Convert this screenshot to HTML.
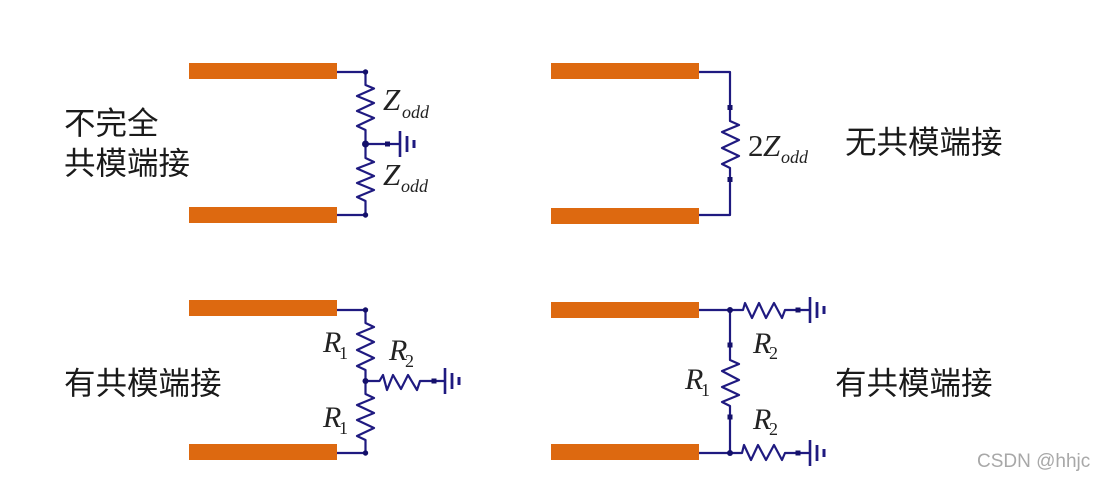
<!DOCTYPE html>
<html>
<head>
<meta charset="utf-8">
<style>
html,body{margin:0;padding:0;background:#fff;width:1094px;height:479px;overflow:hidden}
svg{display:block}
.c{font-family:"Liberation Sans","Noto Sans CJK SC",sans-serif;font-size:31.5px;fill:#1a1a1a}
.m{font-family:"Liberation Serif",serif;font-style:italic;fill:#222}
.n{font-family:"Liberation Serif",serif;fill:#222}
.w{fill:none;stroke:#1f1a80;stroke-width:2.2;stroke-linejoin:round}
.g{stroke:#1f1a80;fill:none}
.d{fill:#14106a}
.b{fill:#dd6910}
</style>
</head>
<body>
<svg width="1094" height="479" viewBox="0 0 1094 479" xmlns="http://www.w3.org/2000/svg">
<rect width="1094" height="479" fill="#fff"/>
<defs>
<g id="gnd">
<path class="g" stroke-width="2.6" d="M0-13V13"/>
<path class="g" stroke-width="2.8" d="M7-8V8"/>
<path class="g" stroke-width="3" d="M14-4V4"/>
</g>
</defs>

<!-- orange bars -->
<rect class="b" x="189" y="63" width="148" height="16"/>
<rect class="b" x="189" y="207" width="148" height="16"/>
<rect class="b" x="551" y="63" width="148" height="16"/>
<rect class="b" x="551" y="208" width="148" height="16"/>
<rect class="b" x="189" y="300" width="148" height="16"/>
<rect class="b" x="189" y="444" width="148" height="16"/>
<rect class="b" x="551" y="302" width="148" height="16"/>
<rect class="b" x="551" y="444" width="148" height="16"/>

<!-- top-left -->
<path class="w" d="M337 72H365.500V85L374 88.500L357 96L374 103L357 111L374 118L357 126L365.500 130V158L374 162L357 168.500L374 176L357 183L374 190L357 197L365.500 201V215H337"/>
<path class="w" d="M365.500 144H400"/>
<circle class="d" cx="365.500" cy="72" r="2.700"/>
<circle class="d" cx="365.500" cy="144" r="3.500"/>
<circle class="d" cx="365.500" cy="215" r="2.700"/>
<rect class="d" x="385" y="141.500" width="5" height="5"/>
<use href="#gnd" x="400" y="144"/>
<text class="m" x="383" y="110" font-size="31">Z</text>
<text class="m" x="402" y="118" font-size="18">odd</text>
<text class="m" x="383" y="185" font-size="31">Z</text>
<text class="m" x="401" y="192" font-size="18">odd</text>

<!-- top-right -->
<path class="w" d="M699 72H730V121L739 125L722 132L739 140L722 148L739 156L722 164L730 168V215H699"/>
<rect class="d" x="727.500" y="105" width="5" height="5"/>
<rect class="d" x="727.500" y="177" width="5" height="5"/>
<text class="n" x="748" y="156" font-size="31">2</text>
<text class="m" x="763" y="156" font-size="31">Z</text>
<text class="m" x="781" y="163" font-size="18">odd</text>

<!-- bottom-left -->
<path class="w" d="M337 310H365.500V323L374 327L357 334L374 342L357 350L374 358L357 366L365.500 370V394L374 398L357 405L374 413L357 420L374 428L357 436L365.500 440V453H337"/>
<path class="w" d="M365.500 381H379.500L383 375L387 390L393 375L401 389L408 375L417 390L420 381H445"/>
<circle class="d" cx="365.500" cy="310" r="2.700"/>
<circle class="d" cx="365.500" cy="381" r="3"/>
<circle class="d" cx="365.500" cy="453" r="2.700"/>
<rect class="d" x="431.500" y="378.500" width="5" height="5"/>
<use href="#gnd" x="445" y="381"/>
<text class="m" x="323" y="352" font-size="30">R</text>
<text class="n" x="339" y="359" font-size="18">1</text>
<text class="m" x="389" y="360" font-size="30">R</text>
<text class="n" x="405" y="367" font-size="18">2</text>
<text class="m" x="323" y="427" font-size="30">R</text>
<text class="n" x="339" y="434" font-size="18">1</text>

<!-- bottom-right -->
<path class="w" d="M699 310H743L745 303L752 318L759 303L766 318L774 303L782 318L785 310H810"/>
<path class="w" d="M699 453H742L744 445L751 460L758 445L766 460L774 445L782 460L785 453H810"/>
<path class="w" d="M730 310V360L739 364L722 371L739 380L722 387L739 395L722 402L730 406V453"/>
<circle class="d" cx="730" cy="310" r="3"/>
<circle class="d" cx="730" cy="453" r="3"/>
<rect class="d" x="727.500" y="342.500" width="5" height="5"/>
<rect class="d" x="727.500" y="414.500" width="5" height="5"/>
<rect class="d" x="795.500" y="307.500" width="5" height="5"/>
<rect class="d" x="795.500" y="450.500" width="5" height="5"/>
<use href="#gnd" x="810" y="310"/>
<use href="#gnd" x="810" y="453"/>
<text class="m" x="753" y="353" font-size="30">R</text>
<text class="n" x="769" y="359" font-size="18">2</text>
<text class="m" x="685" y="389" font-size="30">R</text>
<text class="n" x="701" y="396" font-size="18">1</text>
<text class="m" x="753" y="429" font-size="30">R</text>
<text class="n" x="769" y="435" font-size="18">2</text>

<!-- Chinese labels -->
<text class="c" x="64" y="134">不完全</text>
<text class="c" x="64" y="174">共模端接</text>
<text class="c" x="845" y="153">无共模端接</text>
<text class="c" x="64" y="394">有共模端接</text>
<text class="c" x="835" y="394">有共模端接</text>

<!-- watermark -->
<text x="977" y="467" font-family="'Liberation Sans',sans-serif" font-size="19" fill="#a8a8a8">CSDN @hhjc</text>
</svg>
</body>
</html>
